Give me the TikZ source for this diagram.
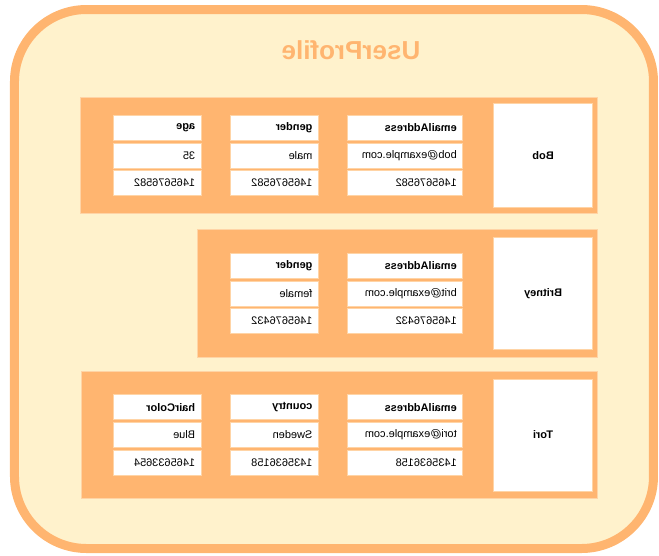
\documentclass[tikz,border=0pt]{standalone}
\usepackage{fontspec}
\setmainfont{Liberation Sans}
\usepackage{tikz}
\usetikzlibrary{positioning}
\definecolor{tablefill}{HTML}{FFF2CC}
\definecolor{tableorange}{HTML}{FFB570}
\definecolor{itemorange}{HTML}{FFB570}
\definecolor{itemline}{HTML}{FFD4A6}
\tikzset{
  tableframe/.style={draw=tableorange, fill=tablefill, line width=9pt, rounded corners=72pt},
  tabletitle/.style={text=tableorange, font=\fontsize{26}{29}\selectfont\bfseries, inner sep=0pt},
  itempanel/.style={draw=itemline, fill=itemorange, line width=0.8pt, anchor=north west, inner sep=0pt},
  keycell/.style={draw=itemline, fill=white, line width=0.8pt, minimum width=99pt, font=\fontsize{11}{13}\selectfont\bfseries, inner sep=0pt},
  attrcell/.style={draw=itemline, fill=white, line width=0.8pt, minimum height=25pt, inner xsep=6pt, inner ysep=0pt,
    text width=76pt, align=left, font=\fontsize{11}{13}\selectfont},
  headcell/.style={attrcell, font=\fontsize{11}{13}\selectfont\bfseries},
  widecol/.style={text width=103pt}
}
\begin{document}
\begin{tikzpicture}[xscale=-1, transform shape, x=1pt, y=-1pt, node distance=2pt and 28.5pt]
  \useasboundingbox (0,0) rectangle (659,555);
  \draw[tableframe] (5.5,9.5) rectangle (644.5,548.5);
  \node[tabletitle] (title) at (308,50) {UserProfile};

  % item: Bob
  \node[itempanel, minimum width=517pt, minimum height=116pt] (bobItem) at (61,97) {};
  \node[keycell, minimum height=104pt, right=5pt of bobItem.west] (bob) {Bob};
  \node[attrcell, widecol, right=30pt of bob] (bobMail) {bob@example.com};
  \node[headcell, widecol, above=of bobMail] (bobMailHead) {emailAddress};
  \node[attrcell, widecol, below=of bobMail] (bobMailTs) {1465676582};
  \node[attrcell, right=of bobMail] (bobGender) {male};
  \node[headcell, above=of bobGender] (bobGenderHead) {gender};
  \node[attrcell, below=of bobGender] (bobGenderTs) {1465676582};
  \node[attrcell, right=of bobGender] (bobAge) {35};
  \node[headcell, above=of bobAge] (bobAgeHead) {age};
  \node[attrcell, below=of bobAge] (bobAgeTs) {1465676582};

  % item: Britney
  \node[itempanel, minimum width=400pt, minimum height=128pt] (britItem) at (61,229) {};
  \node[keycell, minimum height=112pt, right=5pt of britItem.west] (brit) {Britney};
  \node[attrcell, widecol, right=30pt of brit] (britMail) {brit@example.com};
  \node[headcell, widecol, above=of britMail] (britMailHead) {emailAddress};
  \node[attrcell, widecol, below=of britMail] (britMailTs) {1465676432};
  \node[attrcell, right=of britMail] (britGender) {female};
  \node[headcell, above=of britGender] (britGenderHead) {gender};
  \node[attrcell, below=of britGender] (britGenderTs) {1465676432};

  % item: Tori
  \node[itempanel, minimum width=516pt, minimum height=127pt] (toriItem) at (61,371) {};
  \node[keycell, minimum height=112pt, right=5pt of toriItem.west] (tori) {Tori};
  \node[attrcell, widecol, right=30pt of tori] (toriMail) {tori@example.com};
  \node[headcell, widecol, above=of toriMail] (toriMailHead) {emailAddress};
  \node[attrcell, widecol, below=of toriMail] (toriMailTs) {1435636158};
  \node[attrcell, right=of toriMail] (toriCountry) {Sweden};
  \node[headcell, above=of toriCountry] (toriCountryHead) {country};
  \node[attrcell, below=of toriCountry] (toriCountryTs) {1435636158};
  \node[attrcell, right=of toriCountry] (toriHair) {Blue};
  \node[headcell, above=of toriHair] (toriHairHead) {hairColor};
  \node[attrcell, below=of toriHair] (toriHairTs) {1465633654};
\end{tikzpicture}
\end{document}
